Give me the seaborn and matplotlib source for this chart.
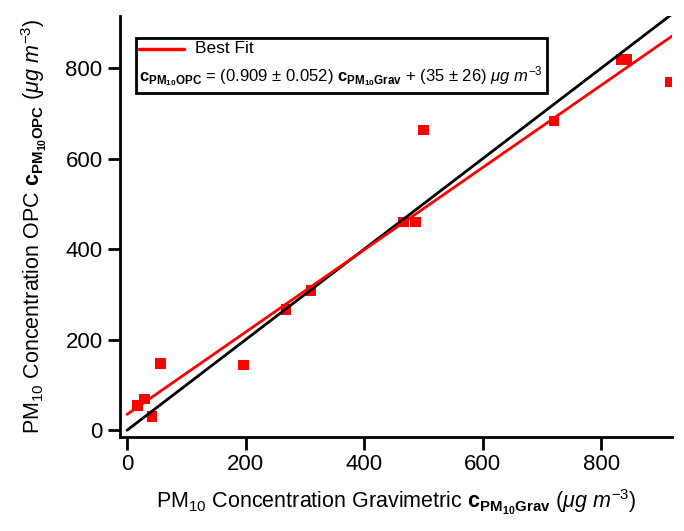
import numpy as np
import pandas as pd
import matplotlib
matplotlib.use("Agg")
import matplotlib.pyplot as plt
import seaborn as sns
from matplotlib.lines import Line2D
from matplotlib.offsetbox import AnchoredOffsetbox, DrawingArea, HPacker, TextArea, VPacker

# measured PM10 concentrations (ug m-3)
grav = [18, 29, 42, 56, 196, 268, 310, 466, 487, 500, 720, 834, 843, 917]
opc = [55, 69, 31, 147, 144, 266, 309, 460, 460, 663, 683, 818, 818, 769]

# linear fit parameters
slope = 0.909
intercept = 35.0

x_ticks = [0, 200, 400, 600, 800]
y_ticks = [0, 200, 400, 600, 800]
x_range = (-12, 919)
y_range = (-15, 915)

sns.set_style("ticks")
plt.rcParams["font.family"] = ["Liberation Sans", "DejaVu Sans"]
plt.rcParams["text.color"] = "black"
plt.rcParams["axes.labelcolor"] = "black"
plt.rcParams["mathtext.fontset"] = "custom"
plt.rcParams["mathtext.rm"] = "Liberation Sans"
plt.rcParams["mathtext.it"] = "Liberation Sans:italic"
plt.rcParams["mathtext.bf"] = "Liberation Sans:bold"

data = pd.DataFrame({"grav": grav, "opc": opc})

fig = plt.figure(figsize=(6.84, 5.31), dpi=100)
ax = fig.add_axes([0.1754, 0.177, 0.807, 0.793])

sns.scatterplot(data=data, x="grav", y="opc", marker="s", s=60,
                color="#ff0000", edgecolor="none", ax=ax, zorder=2)

line_x = np.array([0, x_range[1]])
sns.lineplot(x=line_x, y=line_x, color="black", linewidth=2, ax=ax, zorder=3)
sns.lineplot(x=line_x, y=slope * line_x + intercept, color="#ff0000",
             linewidth=2, ax=ax, zorder=3)

ax.set_xlim(*x_range)
ax.set_ylim(*y_range)
ax.set_xticks(x_ticks)
ax.set_yticks(y_ticks)
ax.tick_params(labelsize=16, length=9, width=2, colors="black")
for side in ["top", "right"]:
    ax.spines[side].set_visible(False)
for side in ["left", "bottom"]:
    ax.spines[side].set_linewidth(2)
    ax.spines[side].set_color("black")

ax.set_xlabel(r"PM$_{10}$ Concentration Gravimetric $\mathbf{c}_{\mathbf{PM}_{\mathbf{10}}\mathbf{Grav}}$ $(\mu g\ m^{-3})$",
              fontsize=15.5, labelpad=9)
ax.set_ylabel(r"PM$_{10}$ Concentration OPC $\mathbf{c}_{\mathbf{PM}_{\mathbf{10}}\mathbf{OPC}}$ $(\mu g\ m^{-3})$",
              fontsize=15.5, labelpad=12)

# legend box with fit line and equation
handle = DrawingArea(34, 10)
handle.add_artist(Line2D([0, 32], [5, 5], color="#ff0000", linewidth=2.5))
row1 = HPacker(children=[handle, TextArea("Best Fit", textprops=dict(size=12.5))],
               pad=0, sep=6, align="center")
eq = (r"$\mathbf{c}_{\mathbf{PM}_{\mathbf{10}}\mathbf{OPC}}$ = (0.909 ± 0.052) "
      r"$\mathbf{c}_{\mathbf{PM}_{\mathbf{10}}\mathbf{Grav}}$ + (35 ± 26) $\mu g\ m^{-3}$")
row2 = TextArea(eq, textprops=dict(size=12))
box = VPacker(children=[row1, row2], pad=0, sep=6, align="left")
anchored = AnchoredOffsetbox(loc="upper left", child=box, pad=0.25, borderpad=0,
                             frameon=True, bbox_to_anchor=(136, 531 - 38),
                             bbox_transform=None)
anchored.patch.set_edgecolor("black")
anchored.patch.set_linewidth(2)
ax.add_artist(anchored)

fig.savefig("out.png", dpi=100)
